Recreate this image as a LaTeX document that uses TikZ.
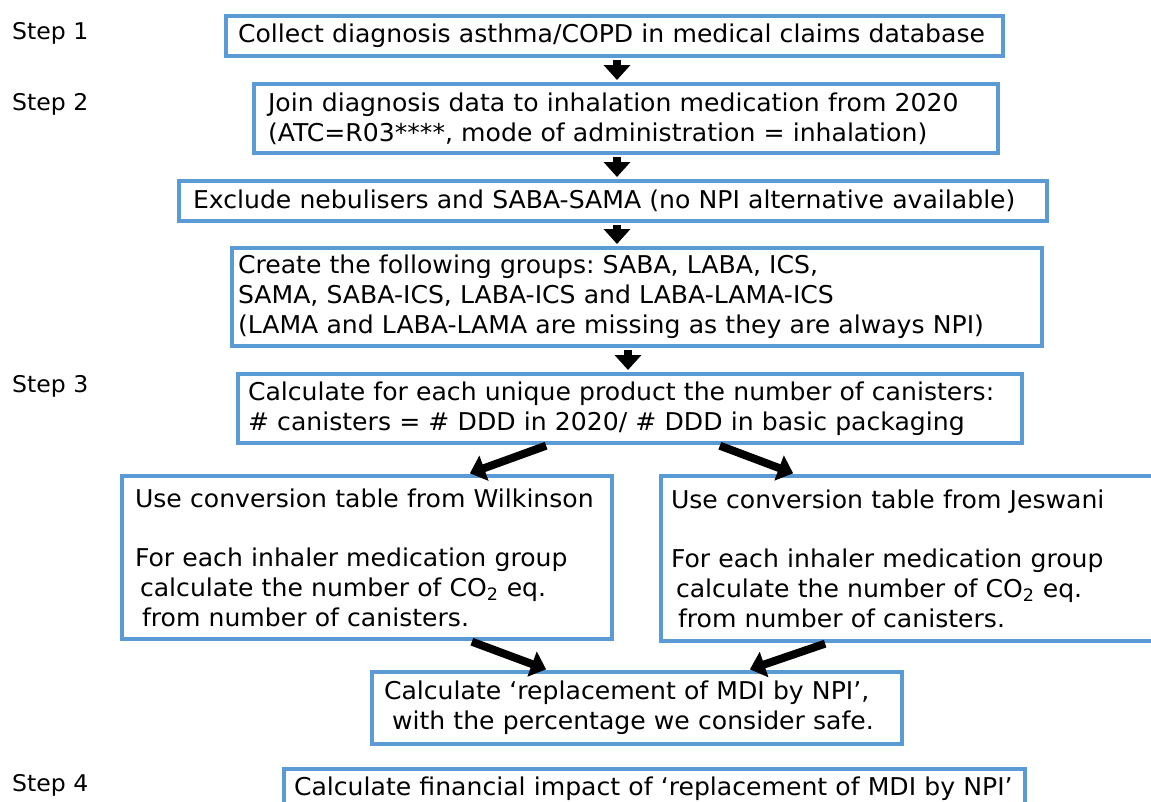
\documentclass[tikz,border=0pt]{standalone}
\usepackage{fontspec}
\setmainfont{DejaVu Sans}[FakeStretch=1.025]
\usetikzlibrary{arrows.meta}
\definecolor{boxblue}{RGB}{91,155,213}
\newcommand{\lineb}[1]{\mbox{#1}}
\frenchspacing
\tikzset{
  flowbox/.style={draw=boxblue, line width=4pt, anchor=north west, align=left,
    font=\fontsize{24.5}{29.8}\selectfont\frenchspacing, inner ysep=0pt},
  arr/.style={line width=8pt, black, -{Triangle[width=26pt,length=15pt]},
    shorten <=2pt, shorten >=2pt},
  steplabel/.style={anchor=west, font=\fontsize{23}{28}\selectfont, inner sep=0pt}
}
\begin{document}
\begin{tikzpicture}[x=1pt,y=-1pt]
\useasboundingbox (0,0) rectangle (1151,801);
\fill[white] (0,0) rectangle (1151,801);

\node[steplabel] (s1) at (12,33) {Step 1};
\node[steplabel] (s2) at (12,104) {Step 2};
\node[steplabel] (s3) at (12,386) {Step 3};
\node[steplabel] (s4) at (12,785) {Step 4};

\node[flowbox, minimum width=777pt, minimum height=40pt, inner xsep=12pt, text width=753pt]
  (b1) at (224,14) {\lineb{Collect diagnosis asthma/COPD in medical claims database}};
\node[flowbox, minimum width=744pt, minimum height=69pt, inner xsep=14pt, text width=716pt]
  (b2) at (252,82) {\lineb{Join diagnosis data to inhalation medication from 2020}\\
  \lineb{(ATC=R03****, mode of administration = inhalation)}};
\node[flowbox, minimum width=868pt, minimum height=40pt, inner xsep=14pt, text width=840pt]
  (b3) at (177,179) {\lineb{Exclude nebulisers and SABA-SAMA (no NPI alternative available)}};
\node[flowbox, minimum width=810pt, minimum height=98pt, inner xsep=6pt, text width=798pt]
  (b4) at (230,246) {\lineb{Create the following groups: SABA, LABA, ICS,}\\
  \lineb{SAMA, SABA-ICS, LABA-ICS and LABA-LAMA-ICS}\\
  \lineb{(LAMA and LABA-LAMA are missing as they are always NPI)}};
\node[flowbox, minimum width=784pt, minimum height=69pt, inner xsep=10pt, text width=764pt]
  (b5) at (236,372) {\lineb{Calculate for each unique product the number of canisters:}\\
  \lineb{\# canisters = \# DDD in 2020/ \# DDD in basic packaging}};
\node[flowbox, minimum width=490pt, minimum height=163pt, inner xsep=13pt, text width=464pt]
  (b6) at (120,474) {\lineb{Use conversion table from Wilkinson}\\
  \mbox{}\\
  \lineb{For each inhaler medication group}\\
  \lineb{\hspace*{5pt}calculate the number of CO\textsubscript{2} eq.}\\
  \lineb{\hspace*{7pt}from number of canisters.}};
\node[flowbox, minimum width=502pt, minimum height=165pt, inner xsep=10pt, text width=482pt]
  (b7) at (659,474) {\lineb{Use conversion table from Jeswani}\\
  \mbox{}\\
  \lineb{For each inhaler medication group}\\
  \lineb{\hspace*{5pt}calculate the number of CO\textsubscript{2} eq.}\\
  \lineb{\hspace*{7pt}from number of canisters.}};
\node[flowbox, minimum width=530pt, minimum height=72pt, inner xsep=12pt, text width=506pt]
  (b8) at (370,670) {\lineb{Calculate ‘replacement of MDI by NPI’,}\\
  \lineb{\hspace*{8pt}with the percentage we consider safe.}};
\node[flowbox, minimum width=741pt, minimum height=40pt, inner xsep=10pt, text width=721pt]
  (b9) at (282,767) {\raisebox{3pt}{\lineb{Calculate financial impact of ‘replacement of MDI by NPI’}}};

\coordinate (v1) at (617,0);
\coordinate (v4) at (628,0);
\coordinate (d1) at (548,0);
\coordinate (d2) at (468,0);
\coordinate (d3) at (718,0);
\coordinate (d4) at (795,0);
\coordinate (e1) at (470,0);
\coordinate (e2) at (548,0);
\coordinate (e3) at (827,0);
\coordinate (e4) at (748,0);

\draw[arr] (b1.south -| v1) -- (b2.north -| v1);
\draw[arr] (b2.south -| v1) -- (b3.north -| v1);
\draw[arr] (b3.south -| v1) -- (b4.north -| v1);
\draw[arr] (b4.south -| v4) -- (b5.north -| v4);
\draw[arr] (b5.south -| d1) -- (b6.north -| d2);
\draw[arr] (b5.south -| d3) -- (b7.north -| d4);
\draw[arr] (b6.south -| e1) -- (b8.north -| e2);
\draw[arr] (b7.south -| e3) -- (b8.north -| e4);
\end{tikzpicture}
\end{document}
